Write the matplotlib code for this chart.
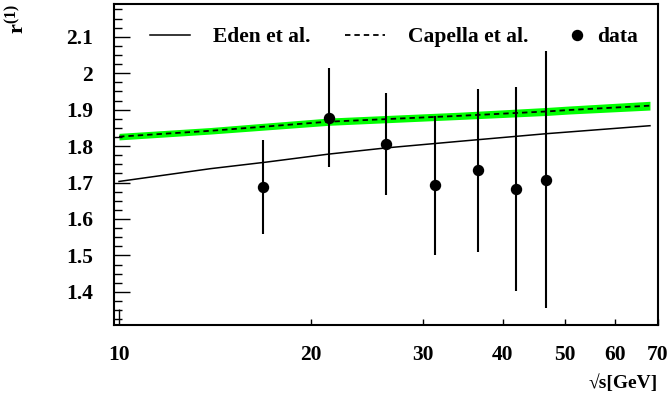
import matplotlib
matplotlib.use('Agg')
import matplotlib.pyplot as plt
from matplotlib.lines import Line2D

plt.rcParams['font.family'] = ['Liberation Serif', 'DejaVu Serif']
plt.rcParams['font.weight'] = 'bold'
plt.rcParams['mathtext.fontset'] = 'custom'
plt.rcParams['mathtext.rm'] = 'Liberation Serif:bold'
plt.rcParams['mathtext.it'] = 'Liberation Serif:bold'

# data points
data_x = [16.8, 21.35, 26.2, 31.3, 36.6, 41.9, 46.7]
data_y = [1.688, 1.878, 1.806, 1.692, 1.734, 1.682, 1.708]
data_err = [0.129, 0.136, 0.140, 0.190, 0.224, 0.280, 0.352]

# Eden et al. prediction
eden_x = [10, 13.9, 17.0, 21.3, 26.2, 34.1, 46.7, 68]
eden_y = [1.703, 1.738, 1.756, 1.778, 1.795, 1.813, 1.834, 1.856]

# Capella et al. prediction with uncertainty band
capella_x = [10, 13.9, 21.3, 34.1, 46.7, 50.7, 68]
capella_y = [1.826, 1.842, 1.867, 1.883, 1.895, 1.899, 1.911]
capella_err = [0.009, 0.009, 0.010, 0.010, 0.011, 0.011, 0.012]

xtick_minor = [20, 30, 40, 50, 60, 70]

fig = plt.figure(figsize=(6.71, 4.01), dpi=100)
ax = fig.add_axes([0.1699, 0.1895, 0.8107, 0.8005])

lo = [c - e for c, e in zip(capella_y, capella_err)]
hi = [c + e for c, e in zip(capella_y, capella_err)]
ax.fill_between(capella_x, lo, hi, color='#00ff00', lw=0)
ax.plot(capella_x, capella_y, color='black', lw=1.3, ls=(0, (3, 2.2)))
ax.plot(eden_x, eden_y, color='black', lw=1.1)
ax.errorbar(data_x, data_y, yerr=data_err, fmt='o', color='black',
            ms=7.2, elinewidth=1.5, capsize=0)

ax.set_xscale('log')
ax.set_xlim(9.82, 70)
ax.set_ylim(1.309, 2.19)

ax.set_xticks([10], labels=['10'])
ax.set_xticks(xtick_minor, labels=[str(v) for v in xtick_minor], minor=True)
ax.set_yticks([1.4, 1.5, 1.6, 1.7, 1.8, 1.9, 2.0, 2.1],
              labels=['1.4', '1.5', '1.6', '1.7', '1.8', '1.9', '2', '2.1'])
ax.set_yticks([1.3 + 0.025 * i for i in range(36) if (i % 4) != 0 and 1.309 < 1.3 + 0.025 * i < 2.19],
              minor=True)
ax.tick_params(axis='x', which='major', direction='in', length=11.5, width=1,
               pad=14.5, labelsize=15.5, top=False)
ax.tick_params(axis='x', which='minor', direction='in', length=4.3, width=1,
               pad=14.5, labelsize=15.5, top=False)
ax.tick_params(axis='y', which='major', direction='in', length=11.5, width=1,
               pad=15, labelsize=15.5, right=False)
ax.tick_params(axis='y', which='minor', direction='in', length=5.8, width=1,
               right=False)
for s in ax.spines.values():
    s.set_linewidth(1.5)

fig.text(658 / 671, 1 - 383 / 401, '\u221as[GeV]', ha='right', va='center',
         fontsize=14, fontweight='bold')
fig.text(18 / 671, 1 - 4 / 401, r'$\mathrm{r}^{(1)}$', rotation=90,
         ha='center', va='top', fontsize=16)

# legend entries, one block each
leg_kw = dict(frameon=False, fontsize=15.5, borderpad=0, borderaxespad=0,
              loc='center left')
leg1 = ax.legend([Line2D([], [], color='black', lw=1.1)], ['Eden et al.'],
                 handlelength=1.86, handletextpad=1.07,
                 bbox_to_anchor=(0.066, 0.897), **leg_kw)
ax.add_artist(leg1)
leg2 = ax.legend([Line2D([], [], color='black', lw=1.3, ls=(0, (3, 2.2)))],
                 ['Capella et al.'], handlelength=1.86, handletextpad=1.07,
                 bbox_to_anchor=(0.4246, 0.897), **leg_kw)
ax.add_artist(leg2)
ax.legend([Line2D([], [], color='black', marker='o', ms=7.2, ls='none')],
          ['data'], handlelength=0.7, handletextpad=0.56, numpoints=1,
          bbox_to_anchor=(0.838, 0.897), **leg_kw)

fig.savefig('out.png', dpi=100)
